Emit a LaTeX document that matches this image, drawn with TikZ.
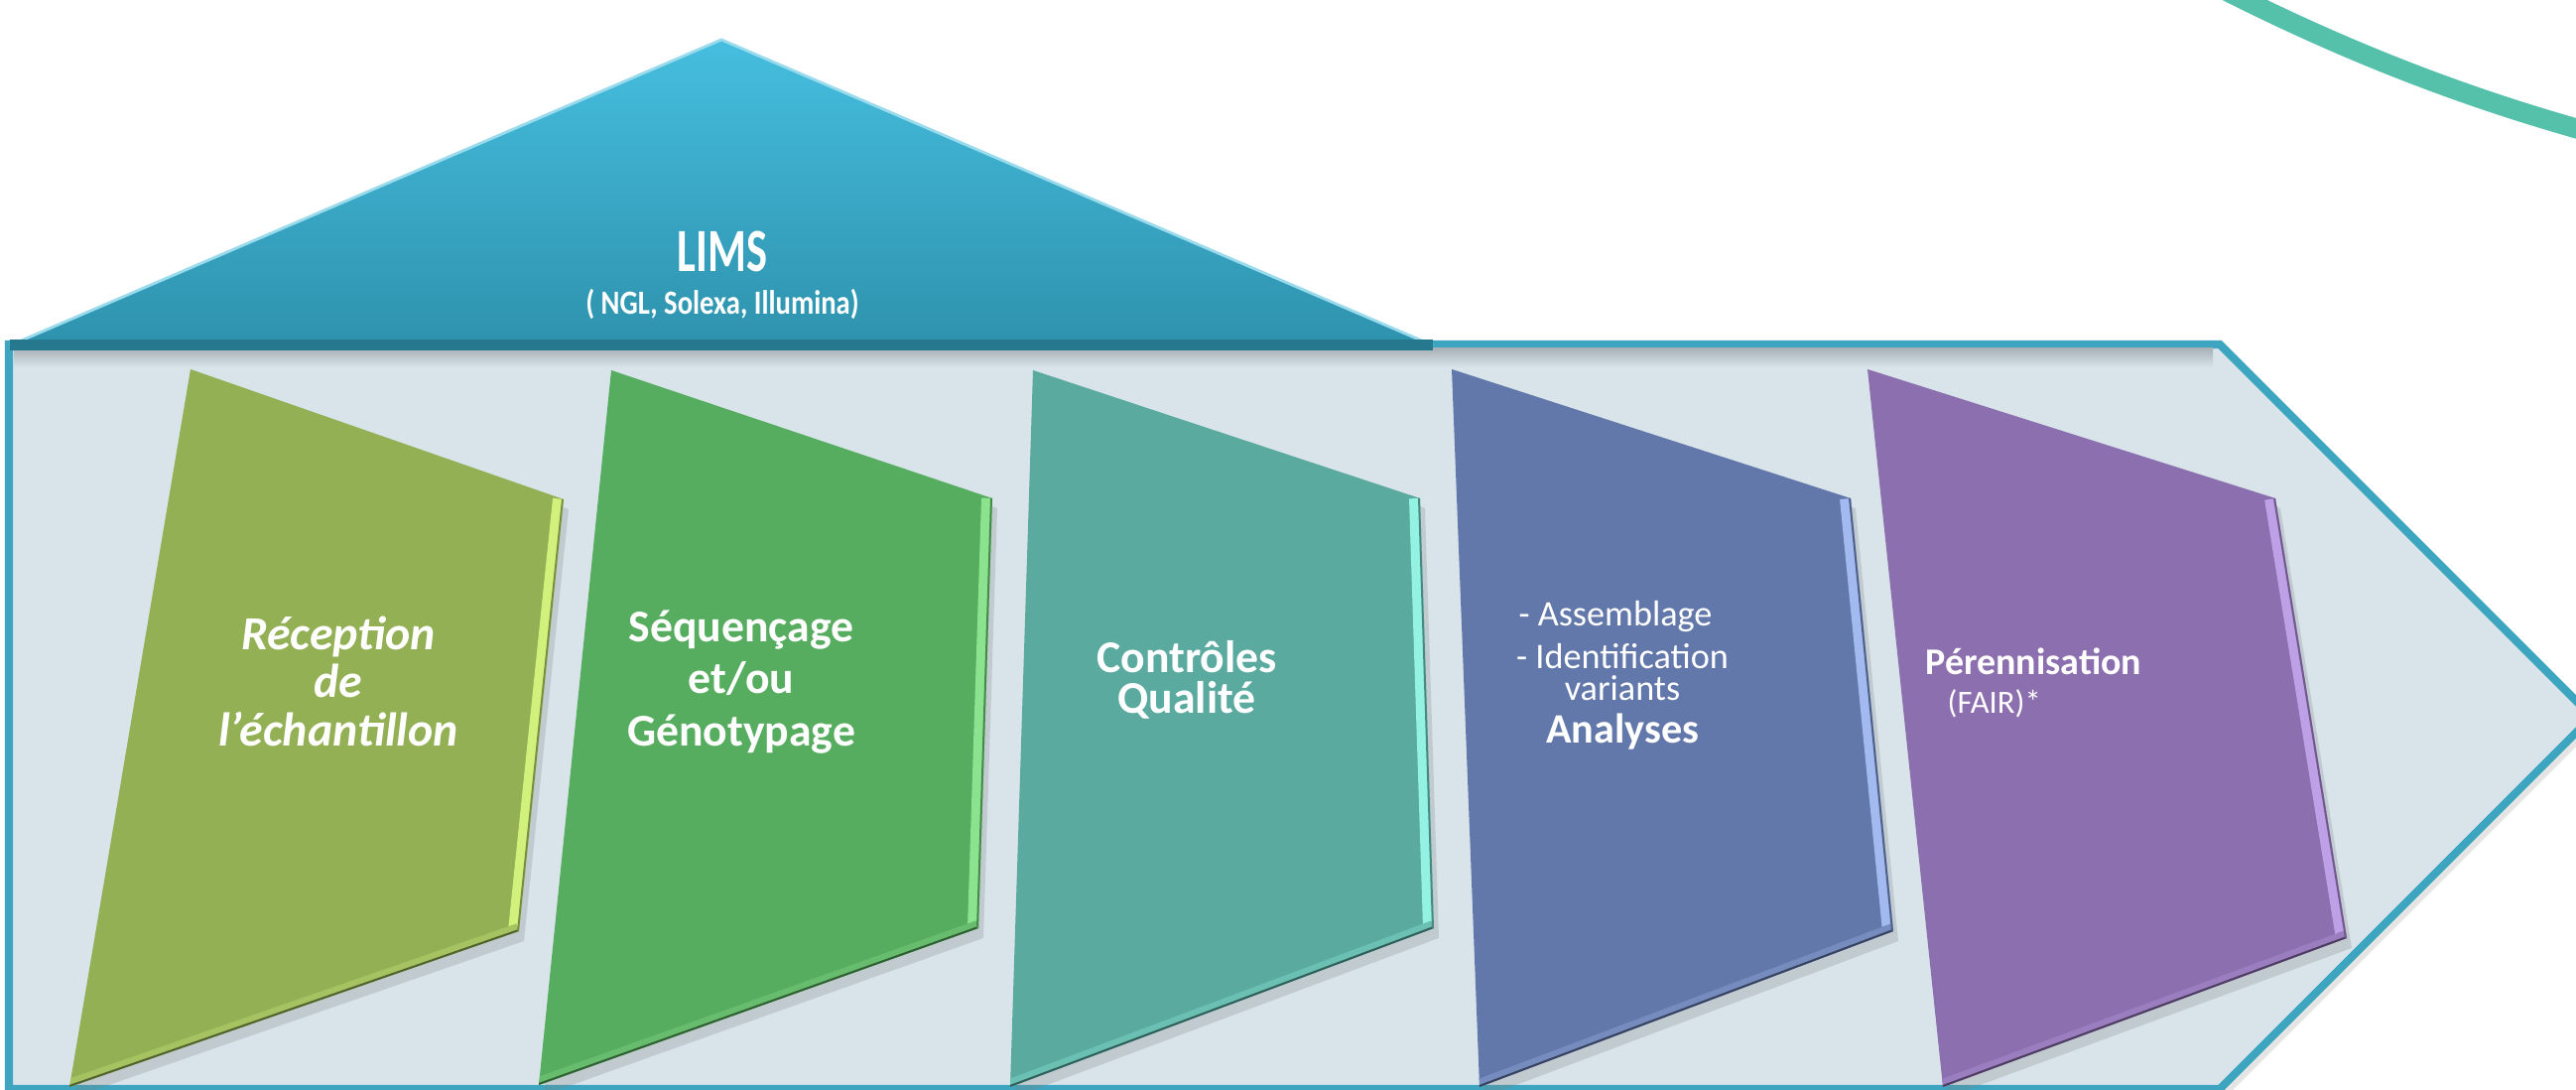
\documentclass[tikz,border=0pt]{standalone}
\usepackage{fontspec}
\setmainfont{Carlito}
\usetikzlibrary{shadows}
\definecolor{PipeFrame}{HTML}{3DA5C0}
\definecolor{PipeFill}{HTML}{D8E4EA}
\definecolor{RoofTop}{HTML}{46BEDF}
\definecolor{RoofBottom}{HTML}{2E92AD}
\definecolor{RoofEdge}{HTML}{26788E}
\definecolor{ArcGreen}{HTML}{55C1AA}
\definecolor{StepOlive}{HTML}{93B055}
\definecolor{StepOliveGlow}{HTML}{D2F07C}
\definecolor{StepGreen}{HTML}{57AD5F}
\definecolor{StepGreenGlow}{HTML}{8CE38F}
\definecolor{StepTeal}{HTML}{5AAAA0}
\definecolor{StepTealGlow}{HTML}{93F2E2}
\definecolor{StepBlue}{HTML}{6378AA}
\definecolor{StepBlueGlow}{HTML}{A3BAF0}
\definecolor{StepPurple}{HTML}{8C6FAE}
\definecolor{StepPurpleGlow}{HTML}{BDA0E6}

\begin{document}
\begin{tikzpicture}[
    frame/.style={fill=PipeFill, draw=PipeFrame, line width=2.3pt,
                  drop shadow={shadow xshift=0.6mm, shadow yshift=-0.8mm,
                               opacity=0.2}},
    stage/.style={drop shadow={shadow xshift=0.5mm, shadow yshift=-1.0mm,
                               opacity=0.25}},
    stage text/.style={text=white, align=center, inner sep=0pt,
                       font=\fontsize{13}{15}\selectfont\bfseries},
    item text/.style={text=white, align=center, inner sep=0pt,
                      font=\fontsize{10.3}{9.2}\selectfont},
    roof text/.style={text=white, inner sep=0pt}
]
    \clip (0,0) rectangle (25.96,10.98);
    \fill[white] (0,0) rectangle (25.96,10.98);

    % arc in the top right corner
    \draw[ArcGreen, line width=0.2cm]
        (22.30,11.14) .. controls (23.55,10.50) and (24.80,10.00) .. (26.20,9.62);

    % pipeline arrow
    \filldraw[frame] (0.09,7.51) -- (22.37,7.51) -- (26.12,3.76)
        -- (22.37,0.01) -- (0.09,0.01) -- cycle;
    \shade[top color=black!22!PipeFill, bottom color=PipeFill]
        (0.14,7.47) rectangle (22.30,7.28);

    % LIMS roof
    \coordinate (roof-l) at (0.10,7.50);
    \coordinate (roof-t) at (7.27,10.58);
    \coordinate (roof-r) at (14.44,7.50);
    \shade[top color=RoofTop, bottom color=RoofBottom]
        (roof-l) -- (roof-t) -- (roof-r) -- cycle;
    \draw[RoofTop!55!white, line width=0.8pt] (roof-l) -- (roof-t) -- (roof-r);
    \draw[RoofEdge, line width=0.11cm] (roof-l) -- (roof-r);

    \node[roof text, font=\fontsize{17.6}{20}\selectfont\bfseries] (lims)
        at (7.28,8.45) {\scalebox{0.72}[1]{LIMS}};
    \node[roof text, font=\fontsize{9.7}{11}\selectfont\bfseries] (lims sub)
        at (7.28,7.92) {\scalebox{0.84}[1]{( NGL, Solexa, Illumina)}};

    % corners of the five stages
    \coordinate (s1-tl) at (1.92,7.26);  \coordinate (s1-tr) at (5.68,5.95);
    \coordinate (s1-br) at (5.23,1.60);  \coordinate (s1-bl) at (0.70,0.03);
    \coordinate (s2-tl) at (6.16,7.25);  \coordinate (s2-tr) at (10.00,5.96);
    \coordinate (s2-br) at (9.86,1.63);  \coordinate (s2-bl) at (5.43,0.05);
    \coordinate (s3-tl) at (10.41,7.25); \coordinate (s3-tr) at (14.31,5.96);
    \coordinate (s3-br) at (14.45,1.63); \coordinate (s3-bl) at (10.18,0.03);
    \coordinate (s4-tl) at (14.63,7.26); \coordinate (s4-tr) at (18.65,5.96);
    \coordinate (s4-br) at (19.08,1.60); \coordinate (s4-bl) at (14.91,0.03);
    \coordinate (s5-tl) at (18.82,7.26); \coordinate (s5-tr) at (22.93,5.96);
    \coordinate (s5-br) at (23.65,1.53); \coordinate (s5-bl) at (19.58,0.03);

    \foreach \i/\tone/\glow in {1/StepOlive/StepOliveGlow,
                                2/StepGreen/StepGreenGlow,
                                3/StepTeal/StepTealGlow,
                                4/StepBlue/StepBlueGlow,
                                5/StepPurple/StepPurpleGlow} {
        \fill[\tone, stage] (s\i-tl) -- (s\i-tr) -- (s\i-br) -- (s\i-bl) -- cycle;
        \begin{scope}
            \clip (s\i-tl) -- (s\i-tr) -- (s\i-br) -- (s\i-bl) -- cycle;
            \draw[\glow, line width=0.22cm] (s\i-tr) -- (s\i-br);
            \draw[\tone!70!\glow, line width=0.16cm] (s\i-br) -- (s\i-bl);
            \draw[\tone!55!black, line width=0.04cm] (s\i-br) -- (s\i-bl);
            \draw[\tone!80!black, line width=0.04cm] (s\i-tr) -- (s\i-br);
        \end{scope}
    }

    % stage labels
    \node[stage text, font=\fontsize{13.6}{13.8}\selectfont\bfseries\itshape]
        (reception) at (3.41,4.12) {Réception\\de\\l’échantillon};
    \node[stage text] (sequencage) at (7.47,4.11)
        {Séquençage\\et/ou\\Génotypage};
    \node[stage text, font=\fontsize{13}{11.6}\selectfont\bfseries]
        (controles) at (11.96,4.13) {Contrôles\\Qualité};

    \node[item text] (assemblage) at (16.28,4.77) {- Assemblage};
    \node[item text] (identification) at (16.35,4.21)
        {- Identification\\variants};
    \node[stage text, font=\fontsize{12}{14}\selectfont\bfseries]
        (analyses) at (16.35,3.61) {Analyses};

    \node[roof text, anchor=west, font=\fontsize{10.8}{12}\selectfont\bfseries]
        (perennisation) at (19.40,4.32) {Pérennisation};
    \node[roof text, anchor=west, font=\fontsize{9.3}{11}\selectfont]
        (fair) at (19.62,3.89) {(FAIR)*};
\end{tikzpicture}
\end{document}
